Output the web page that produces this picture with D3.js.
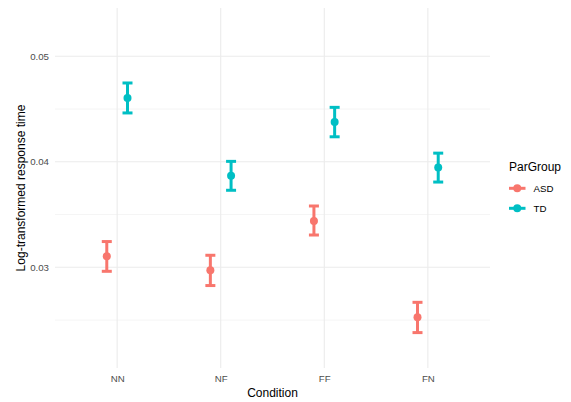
<!DOCTYPE html>
<html>
<head>
<meta charset="utf-8">
<script src="https://cdn.jsdelivr.net/npm/d3@7"></script>
<style>
  html, body { margin: 0; padding: 0; background: #fff; }
  svg { display: block; font-family: "Liberation Sans", Arial, sans-serif; }
</style>
</head>
<body>
<svg id="chart" width="571" height="402"></svg>
<script>
const conditions = ["NN", "NF", "FF", "FN"];
const groups = ["ASD", "TD"];
const groupColors = ["#F8766D", "#00BFC4"];
const asdMean  = [0.03104, 0.02972, 0.03439, 0.02526];
const asdLower = [0.02962, 0.02827, 0.03306, 0.02381];
const asdUpper = [0.03244, 0.03114, 0.03581, 0.02668];
const tdMean   = [0.04605, 0.03867, 0.04376, 0.03947];
const tdLower  = [0.04463, 0.03730, 0.04237, 0.03808];
const tdUpper  = [0.04747, 0.04004, 0.04516, 0.04082];
const yMajorTicks = [0.03, 0.04, 0.05];
const yMinorTicks = [0.025, 0.035, 0.045];
const yTickLabels = ["0.03", "0.04", "0.05"];

const rows = [];
conditions.forEach((c, i) => {
  rows.push({cond: c, group: "ASD", mean: asdMean[i], lo: asdLower[i], hi: asdUpper[i]});
  rows.push({cond: c, group: "TD", mean: tdMean[i], lo: tdLower[i], hi: tdUpper[i]});
});

const svg = d3.select("#chart");
const panel = {left: 55, right: 490, top: 8, bottom: 368};

const x = d3.scalePoint().domain(conditions)
  .range([panel.left, panel.right]).padding(0.6);
const step = x.step();
const dodge = d3.scaleOrdinal().domain(groups).range([-0.1 * step, 0.1 * step]);
const color = d3.scaleOrdinal().domain(groups).range(groupColors);
const y = d3.scaleLinear().domain([0.020455, 0.054577]).range([panel.bottom, panel.top]);

// grid
const grid = svg.append("g");
grid.selectAll(".minor").data(yMinorTicks).enter().append("line")
  .attr("x1", panel.left).attr("x2", panel.right)
  .attr("y1", d => y(d)).attr("y2", d => y(d))
  .attr("stroke", "#EBEBEB").attr("stroke-width", 0.55);
grid.selectAll(".major").data(yMajorTicks).enter().append("line")
  .attr("x1", panel.left).attr("x2", panel.right)
  .attr("y1", d => y(d)).attr("y2", d => y(d))
  .attr("stroke", "#EBEBEB").attr("stroke-width", 1.1);
grid.selectAll(".vmajor").data(conditions).enter().append("line")
  .attr("x1", d => x(d)).attr("x2", d => x(d))
  .attr("y1", panel.top).attr("y2", panel.bottom)
  .attr("stroke", "#EBEBEB").attr("stroke-width", 1.1);

// axes (text only)
const yAxis = d3.axisLeft(y).tickValues(yMajorTicks)
  .tickFormat((d, i) => yTickLabels[i]).tickSize(0).tickPadding(6);
const gy = svg.append("g").attr("transform", `translate(${panel.left},0)`).call(yAxis);
gy.select(".domain").remove();
gy.selectAll("text").attr("fill", "#4D4D4D").style("font-size", "9.7px")
  .style("font-family", "Liberation Sans, Arial, sans-serif");

const xAxis = d3.axisBottom(x).tickSize(0).tickPadding(7);
const gx = svg.append("g").attr("transform", `translate(0,${panel.bottom})`).call(xAxis);
gx.select(".domain").remove();
gx.selectAll("text").attr("fill", "#4D4D4D").style("font-size", "9.7px")
  .style("font-family", "Liberation Sans, Arial, sans-serif");

// titles
svg.append("text").attr("x", (panel.left + panel.right) / 2).attr("y", 397)
  .attr("text-anchor", "middle").style("font-size", "12px").attr("fill", "#000")
  .text("Condition");
svg.append("text")
  .attr("transform", `translate(25,${(panel.top + panel.bottom) / 2}) rotate(-90)`)
  .attr("text-anchor", "middle").style("font-size", "12px").attr("fill", "#000")
  .text("Log-transformed response time");

// error bars
const capHalf = 5;
const marks = svg.append("g");
const eb = marks.selectAll(".eb").data(rows).enter().append("g")
  .attr("stroke", d => color(d.group)).attr("stroke-width", 3).attr("fill", "none");
eb.append("line")
  .attr("x1", d => x(d.cond) + dodge(d.group)).attr("x2", d => x(d.cond) + dodge(d.group))
  .attr("y1", d => y(d.lo)).attr("y2", d => y(d.hi));
eb.append("line")
  .attr("x1", d => x(d.cond) + dodge(d.group) - capHalf).attr("x2", d => x(d.cond) + dodge(d.group) + capHalf)
  .attr("y1", d => y(d.lo)).attr("y2", d => y(d.lo));
eb.append("line")
  .attr("x1", d => x(d.cond) + dodge(d.group) - capHalf).attr("x2", d => x(d.cond) + dodge(d.group) + capHalf)
  .attr("y1", d => y(d.hi)).attr("y2", d => y(d.hi));
marks.selectAll(".pt").data(rows).enter().append("circle")
  .attr("cx", d => x(d.cond) + dodge(d.group)).attr("cy", d => y(d.mean))
  .attr("r", 4).attr("fill", d => color(d.group));

// legend
const leg = svg.append("g");
leg.append("text").attr("x", 509).attr("y", 171).style("font-size", "12px")
  .attr("fill", "#000").text("ParGroup");
const items = leg.selectAll(".item").data(groups).enter().append("g")
  .attr("transform", (d, i) => `translate(509,${188.3 + i * 20})`);
items.append("line").attr("x1", 0).attr("x2", 16.5).attr("y1", 0).attr("y2", 0)
  .attr("stroke", d => color(d)).attr("stroke-width", 3);
items.append("circle").attr("cx", 8.25).attr("cy", 0).attr("r", 4).attr("fill", d => color(d));
items.append("text").attr("x", 24.5).attr("y", 3.5).style("font-size", "9.7px")
  .attr("fill", "#000").text(d => d);
</script>
</body>
</html>
